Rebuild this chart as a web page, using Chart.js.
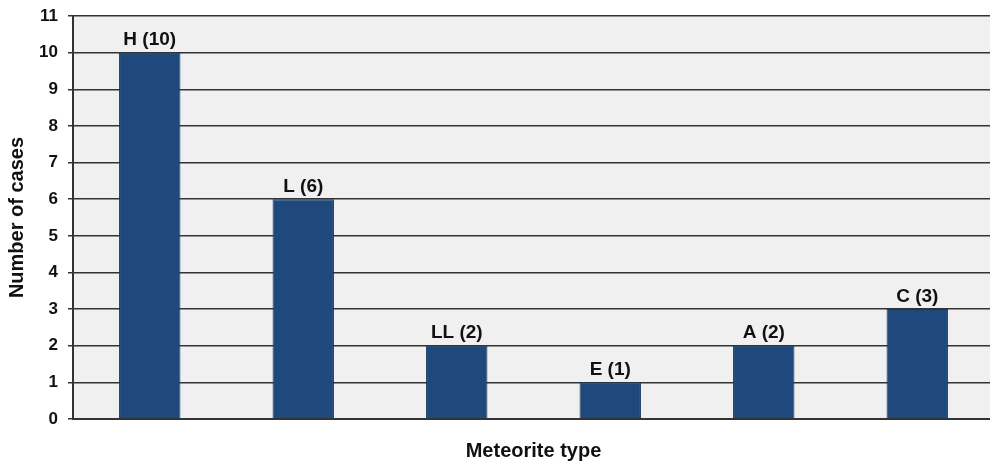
<!DOCTYPE html>
<html>
<head>
<meta charset="utf-8">
<script src="https://cdn.jsdelivr.net/npm/chart.js@4"></script>
<style>
  html, body { margin: 0; padding: 0; background: #fff; overflow: hidden; }
  #wrap { width: 1000px; height: 463px; position: relative; }
</style>
</head>
<body>
<div id="wrap"><canvas id="chart"></canvas></div>
<script>
const types = ["H", "L", "LL", "E", "A", "C"];
const cases = [10, 6, 2, 1, 2, 3];
const yTicks = [0, 1, 2, 3, 4, 5, 6, 7, 8, 9, 10, 11];

const barLabels = types.map((t, i) => `${t} (${cases[i]})`);
const FONT = "'Liberation Sans', Arial, sans-serif";

const plotBg = {
  id: "plotBg",
  beforeDraw(chart) {
    const { ctx, chartArea: a } = chart;
    ctx.save();
    ctx.fillStyle = "#f0f0f0";
    ctx.fillRect(a.left, a.top, a.right - a.left, a.bottom - a.top);
    ctx.restore();
  }
};

const valueLabels = {
  id: "valueLabels",
  afterDatasetsDraw(chart) {
    const { ctx } = chart;
    const meta = chart.getDatasetMeta(0);
    ctx.save();
    ctx.font = "bold 19px " + FONT;
    ctx.fillStyle = "#111";
    ctx.textAlign = "center";
    ctx.textBaseline = "bottom";
    meta.data.forEach((bar, i) => {
      ctx.fillText(barLabels[i], bar.x, bar.y - 3);
    });
    ctx.restore();
  }
};

new Chart(document.getElementById("chart"), {
  type: "bar",
  data: {
    labels: types,
    datasets: [{
      data: cases,
      backgroundColor: "#1f497d",
      borderColor: "#15365e",
      borderWidth: 1,
      barPercentage: 0.4,
      categoryPercentage: 1
    }]
  },
  options: {
    responsive: true,
    maintainAspectRatio: false,
    animation: false,
    layout: { padding: { top: 16, right: 6, left: 0, bottom: 0 } },
    plugins: { legend: { display: false }, tooltip: { enabled: false } },
    scales: {
      x: {
        grid: { display: false },
        border: { display: true, color: "#333", width: 2 },
        ticks: { display: false },
        title: {
          display: true,
          text: "Meteorite type",
          color: "#111",
          font: { family: FONT, size: 20, weight: "bold" },
          padding: { top: 16, bottom: 0 }
        },
        afterFit(scale) { scale.height = 44; }
      },
      y: {
        min: 0,
        max: 11,
        afterBuildTicks(scale) { scale.ticks = yTicks.map(v => ({ value: v })); },
        grid: { color: "#333", lineWidth: 1.5, tickLength: 5, drawTicks: true },
        border: { display: true, color: "#333", width: 2 },
        ticks: {
          color: "#111",
          padding: 10,
          font: { family: FONT, size: 17, weight: "bold" }
        },
        title: {
          display: true,
          text: "Number of cases",
          color: "#111",
          font: { family: FONT, size: 20, weight: "bold" },
          padding: { top: 5, bottom: 0 }
        },
        afterFit(scale) {
          scale.width = 73;
          scale.paddingTop = 0;
          scale.paddingBottom = 0;
        }
      }
    }
  },
  plugins: [plotBg, valueLabels]
});
</script>
</body>
</html>
